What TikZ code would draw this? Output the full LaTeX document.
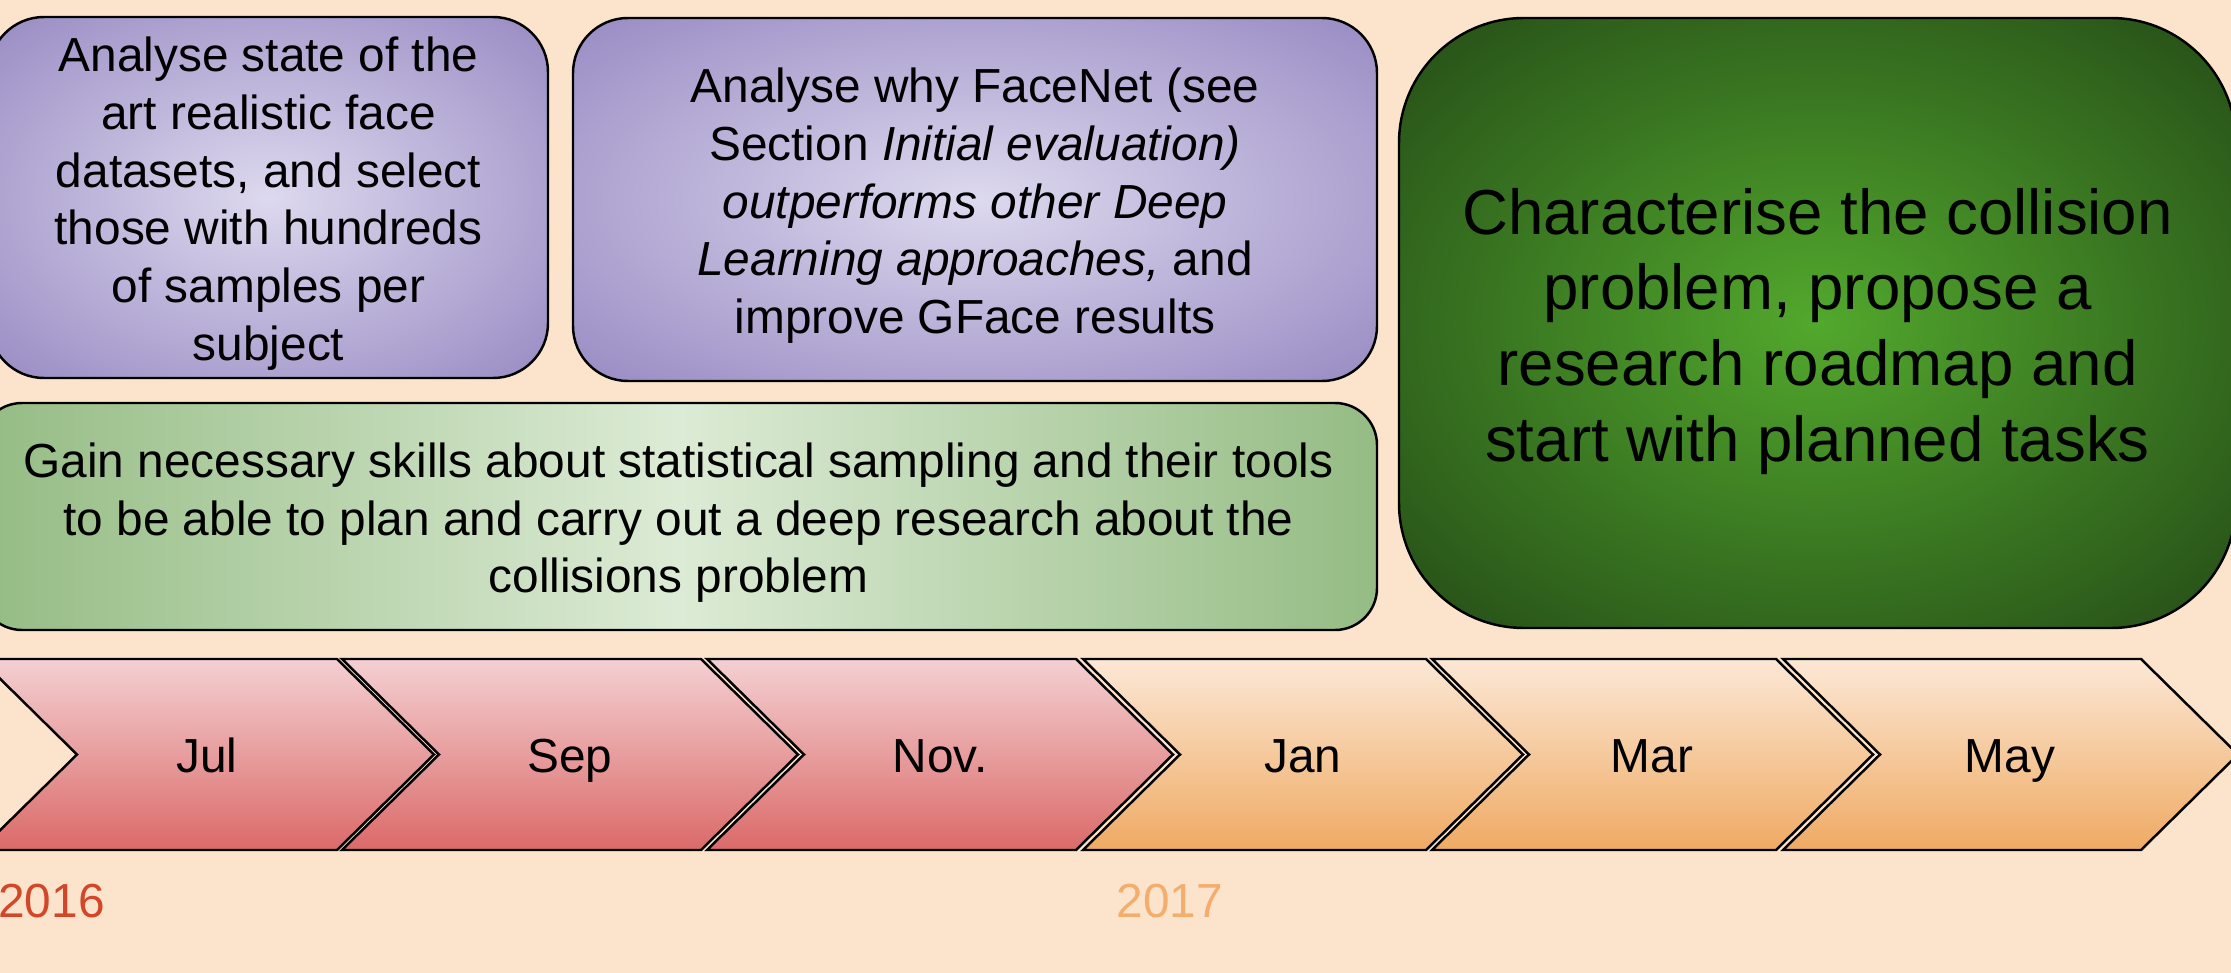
\documentclass[tikz,border=0pt]{standalone}
\usepackage{fontspec}
\setmainfont{Liberation Sans}

\definecolor{pagepeach}{HTML}{FCE4CC}
\definecolor{lilacin}{HTML}{DDD9EE}
\definecolor{lilacout}{HTML}{9587C1}
\definecolor{sageedge}{HTML}{95BC84}
\definecolor{sagemid}{HTML}{DCEBD5}
\definecolor{forestin}{HTML}{52A82D}
\definecolor{forestout}{HTML}{234816}
\definecolor{rosetop}{HTML}{F4D0D2}
\definecolor{rosebot}{HTML}{DB6A69}
\definecolor{apricottop}{HTML}{FCE8D6}
\definecolor{apricotbot}{HTML}{EFAA63}
\definecolor{yearred}{HTML}{D2472A}
\definecolor{yearorange}{HTML}{F3AE6E}

% glow from the middle of a box out to its rim
\pgfdeclareradialshading{lilacglow}{\pgfpoint{0bp}{0bp}}{color(0bp)=(lilacin); color(37bp)=(lilacout); color(50bp)=(lilacout)}
\pgfdeclareradialshading{forestglow}{\pgfpoint{0bp}{0bp}}{color(0bp)=(forestin); color(37bp)=(forestout); color(50bp)=(forestout)}

% taller first line, so the text sits a little lower in its box
\newcommand{\lowstrut}{\rule{0pt}{0.47cm}}
\newcommand{\biglowstrut}{\rule{0pt}{0.63cm}}

\tikzset{
  task/.style={draw=black, line width=0.7pt, inner sep=0pt, align=center,
    font=\fontsize{13.6}{16.4}\selectfont},
  lilac/.style={task, rounded corners=0.55cm, shade, shading=lilacglow},
  sage/.style={task, rounded corners=0.42cm, left color=sageedge, right color=sageedge, middle color=sagemid},
  forest/.style={task, rounded corners=1.25cm, shade, shading=forestglow,
    font=\fontsize{18.1}{21.6}\selectfont},
  month/.style={font=\fontsize{13.6}{16.4}\selectfont, anchor=base},
  year/.style={font=\fontsize{13.6}{16.4}\selectfont, anchor=base west},
}

\begin{document}
\begin{tikzpicture}
  \useasboundingbox (0,0) rectangle (22.31,-9.73);
  \fill[pagepeach] (0,0) rectangle (22.31,-9.73);

  % goals
  \node[lilac, minimum width=5.59cm, minimum height=3.61cm] (datasets) at (2.685,-1.975)
    {\lowstrut Analyse state of the\\art realistic face\\datasets, and select\\those with hundreds\\of samples per\\subject};
  \node[lilac, minimum width=8.04cm, minimum height=3.63cm] (facenet) at (9.75,-1.995)
    {\lowstrut Analyse why FaceNet (see\\Section \textit{Initial evaluation)}\\\textit{outperforms other Deep}\\\textit{Learning approaches,} and\\improve GFace results};
  \node[sage, minimum width=13.97cm, minimum height=2.27cm] (sampling) at (6.785,-5.165)
    {\lowstrut Gain necessary skills about statistical sampling and their tools\\to be able to plan and carry out a deep research about the\\collisions problem};
  \node[forest, minimum width=8.37cm, minimum height=6.10cm] (roadmap) at (18.175,-3.23)
    {\biglowstrut Characterise the collision\\problem, propose a\\research roadmap and\\start with planned tasks};

  % timeline
  \foreach \x/\w/\tint in {-0.20/3.57/rose, 3.42/3.59/rose, 7.07/3.69/rose,
                           10.83/3.43/apricot, 14.32/3.44/apricot, 17.83/3.58/apricot}
    \draw[line width=0.7pt, top color=\tint top, bottom color=\tint bot]
      (\x,-6.59) -- ++(\w,0) -- ++(0.97,-0.955) -- ++(-0.97,-0.955)
      -- ++(-\w,0) -- ++(0.97,0.955) -- cycle;

  \node[month] (jul) at (2.07,-7.72) {Jul};
  \node[month] (sep) at (5.70,-7.72) {Sep};
  \node[month] (nov) at (9.40,-7.72) {Nov.};
  \node[month] (jan) at (13.03,-7.72) {Jan};
  \node[month] (mar) at (16.52,-7.72) {Mar};
  \node[month] (may) at (20.10,-7.72) {May};

  \node[year, text=yearred] (y2016) at (-0.14,-9.17) {2016};
  \node[year, text=yearorange] (y2017) at (11.04,-9.17) {2017};
\end{tikzpicture}
\end{document}
